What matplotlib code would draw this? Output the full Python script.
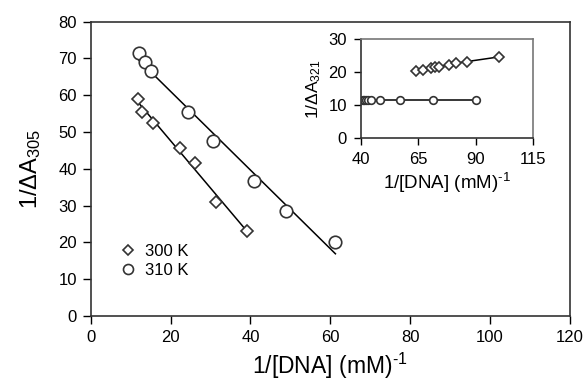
import numpy as np
import matplotlib
matplotlib.use("Agg")
import matplotlib.pyplot as plt

plt.rcParams['font.family'] = ['Liberation Sans', 'DejaVu Sans']
plt.rcParams['mathtext.fontset'] = 'custom'
plt.rcParams['mathtext.rm'] = 'Liberation Sans'
plt.rcParams['mathtext.it'] = 'Liberation Sans'
plt.rcParams['mathtext.default'] = 'regular'

# Main plot data
x300 = [11.9, 12.9, 15.6, 22.4, 26.2, 31.4, 39.1]
y300 = [58.9, 55.5, 52.5, 45.6, 41.5, 31.1, 23.2]
x310 = [12.1, 13.6, 15.1, 24.3, 30.6, 40.8, 49.0, 61.3]
y310 = [71.4, 68.9, 66.6, 55.5, 47.6, 36.8, 28.5, 20.2]

# Inset data
ix300 = [64.1, 67.2, 70.6, 72.5, 73.9, 78.3, 81.3, 86.4, 100.2]
iy300 = [20.4, 20.8, 21.2, 21.5, 21.7, 22.3, 22.8, 23.3, 24.7]
ix310 = [40.8, 41.5, 42.3, 43.2, 44.5, 48.3, 57.1, 71.6, 90.0]
iy310 = [11.5, 11.5, 11.5, 11.5, 11.5, 11.5, 11.5, 11.5, 11.5]

labels = ['300 K', '310 K']
main_xticks = [0, 20, 40, 60, 80, 100, 120]
main_yticks = [0, 10, 20, 30, 40, 50, 60, 70, 80]
inset_xticks = [40, 65, 90, 115]
inset_yticks = [0, 10, 20, 30]

xlabel = '1/[DNA] (mM)$^{\\text{-1}}$'

fig = plt.figure(figsize=(5.85, 3.82), dpi=100)
ax = fig.add_axes([0.155, 0.1728, 0.819, 0.7709])

edge = '#333333'

def fitline(a, xs, ys):
    xs = np.asarray(xs); ys = np.asarray(ys)
    p = np.polyfit(xs, ys, 1)
    xx = np.array([xs.min(), xs.max()])
    a.plot(xx, np.polyval(p, xx), color='black', lw=1.1, zorder=2)

fitline(ax, x300, y300)
fitline(ax, x310, y310)
ax.plot(x300, y300, linestyle='none', marker='D', ms=6, mfc='white', mec=edge, mew=1.2, zorder=3, label=labels[0])
ax.plot(x310, y310, linestyle='none', marker='o', ms=9, mfc='white', mec=edge, mew=1.2, zorder=3, label=labels[1])

ax.set_xlim(0, 120)
ax.set_ylim(0, 80)
ax.set_xticks(main_xticks)
ax.set_yticks(main_yticks)
ax.tick_params(direction='out', length=6, width=1, labelsize=12, colors='black', pad=4)
ax.tick_params(top=False, right=False)
for s in ax.spines.values():
    s.set_linewidth(1.2)
    s.set_color('#333333')
ax.set_xlabel(xlabel, fontsize=16.5, labelpad=4)
ax.set_ylabel('1/ΔA$_{305}$', fontsize=17, labelpad=11)

leg = ax.legend(loc='upper left', bbox_to_anchor=(0.03, 0.295), frameon=False,
                fontsize=12, handlelength=1.0, handletextpad=0.5, labelspacing=0.25,
                markerscale=0.8)

# Inset
ia = fig.add_axes([0.617, 0.6387, 0.294, 0.2579])
ia.plot(ix300, iy300, color='black', lw=1.1, marker='D', ms=5.5, mfc='white', mec=edge, mew=1.2)
ia.plot(ix310, iy310, color='black', lw=1.1, marker='o', ms=5.5, mfc='white', mec=edge, mew=1.2)
ia.set_xlim(40, 115)
ia.set_ylim(0, 30)
ia.set_xticks(inset_xticks)
ia.set_yticks(inset_yticks)
ia.tick_params(direction='out', length=5, width=1, labelsize=12, pad=5)
for s in ia.spines.values():
    s.set_linewidth(1.2)
    s.set_color('#333333')
ia.spines['top'].set_color('#777777')
ia.spines['right'].set_color('#777777')
ia.set_xlabel(xlabel, fontsize=13.5, labelpad=3)
ia.set_ylabel('1/ΔA$_{321}$', fontsize=12.5, labelpad=4)

fig.savefig('out.png', dpi=100)
